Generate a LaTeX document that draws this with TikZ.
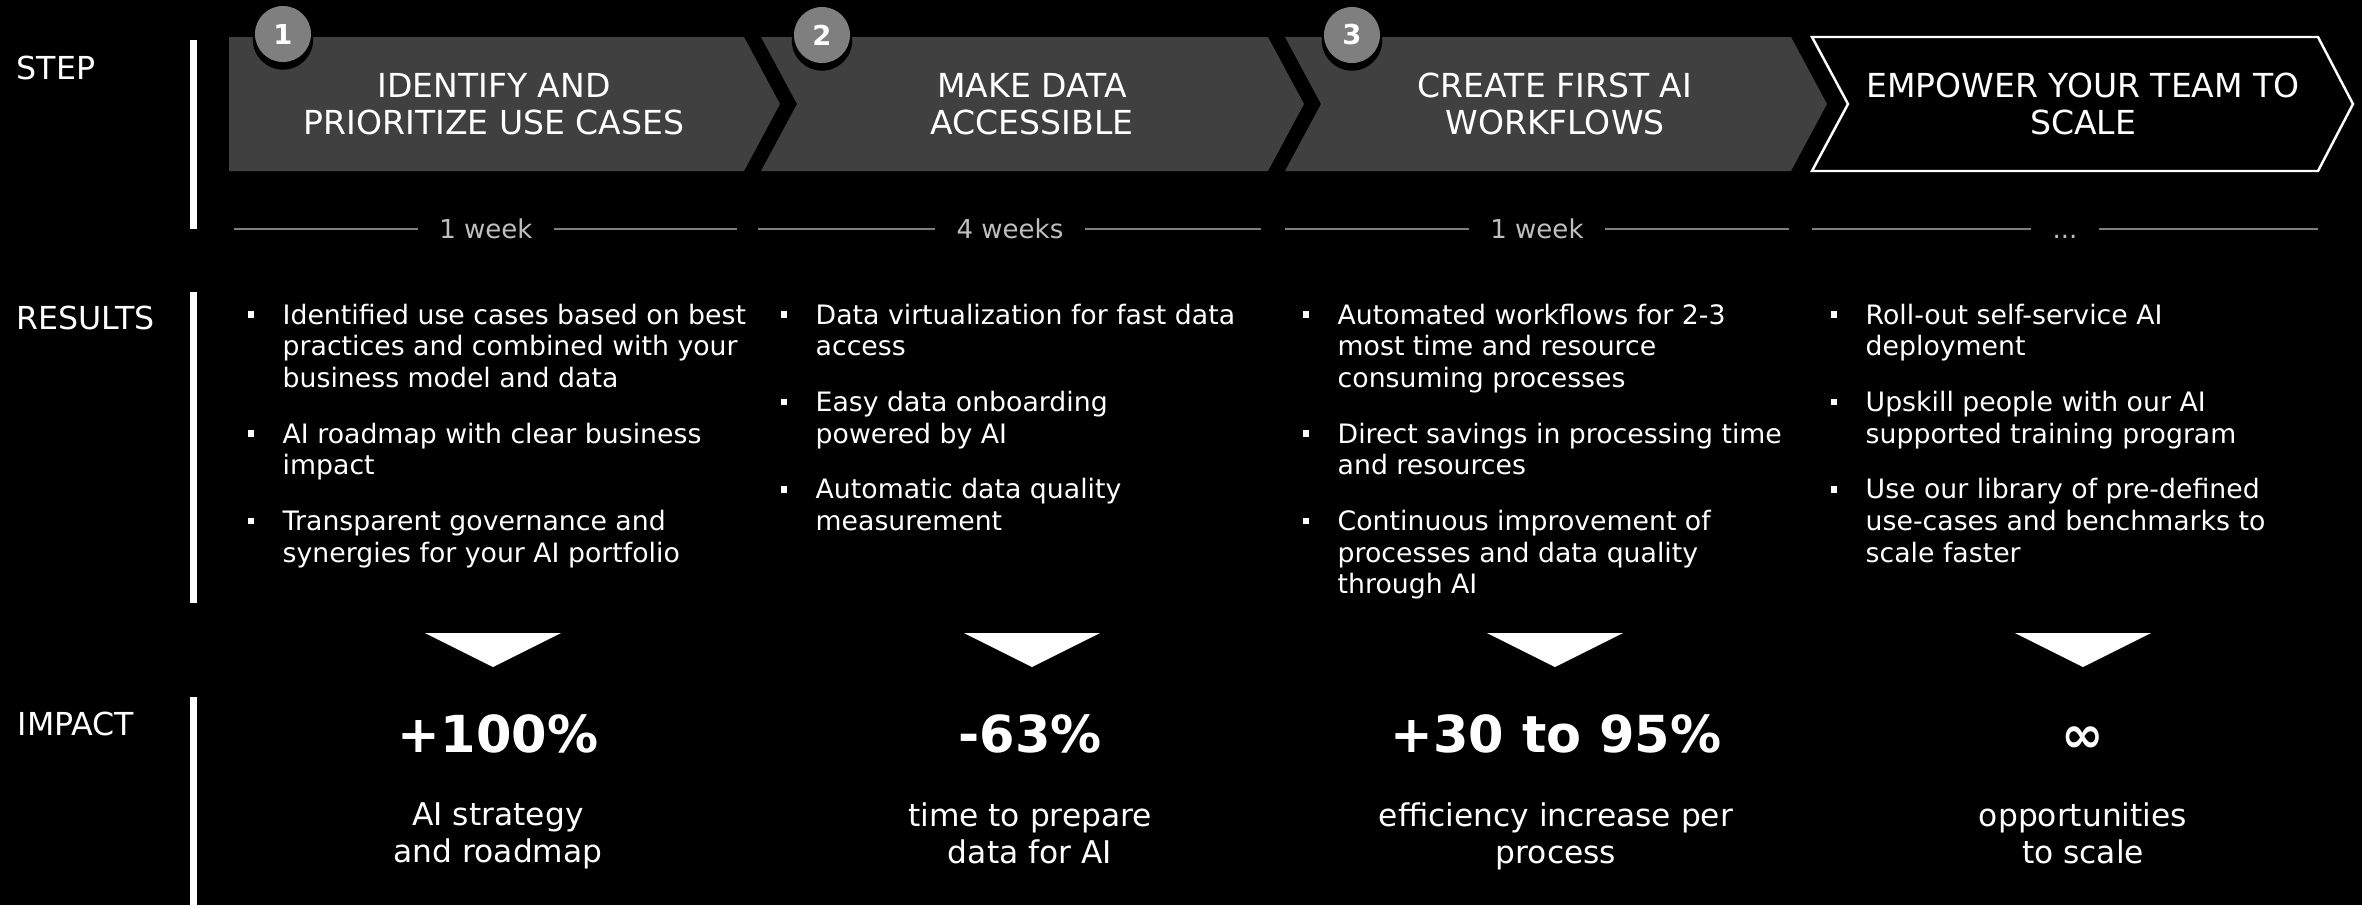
\documentclass[tikz,border=0pt]{standalone}
\usepackage{fontspec}
\setmainfont{DejaVu Sans}
\usepackage{xcolor}
\usepackage{tikz}
\usetikzlibrary{positioning, shadows}
\definecolor{chevgray}{RGB}{64,64,64}
\definecolor{circgray}{RGB}{127,127,127}
\definecolor{linegray}{RGB}{127,127,127}
\definecolor{durgray}{RGB}{191,191,191}
\tikzset{
    labelnode/.style = {text=white, anchor=base west, inner sep=0em, font=\fontsize{9}{10.8}\selectfont},
    sidebar/.style = {white, line width=2pt},
    chevron/.style = {fill=chevgray},
    lastchevron/.style = {draw=white, line width=0.7pt, fill=black},
    headnode/.style = {text=white, align=center, inner sep=0em, font=\fontsize{9.4}{10.5}\selectfont},
    numnode/.style = {circle, fill=circgray, text=white, minimum size=0.56cm, inner sep=0em, 
      font=\bfseries\fontsize{7.8}{9}\selectfont, 
      drop shadow={shadow xshift=0cm, shadow yshift=-0.05cm, shadow scale=1.08, fill=black, opacity=1}},
    durnode/.style = {text=durgray, inner xsep=6pt, inner ysep=0pt, text height=5.6pt, text depth=0pt, 
      font=\fontsize{7.4}{9}\selectfont},
    timeline/.style = {draw=linegray, line width=0.75pt},
    itemnode/.style = {text=white, align=left, anchor=north west, inner sep=0em, font=\fontsize{7.6}{9}\selectfont, 
      execute at begin node=\strut, execute at end node=\strut},
    bulletnode/.style = {fill=white, minimum size=0.065cm, inner sep=0em},
    downmark/.style = {fill=white},
    bignode/.style = {text=white, anchor=base, inner sep=0em, font=\bfseries\fontsize{14.5}{17}\selectfont},
    impactnode/.style = {text=white, align=center, anchor=north, inner sep=0em, font=\fontsize{8.9}{10.4}\selectfont, 
      execute at begin node=\strut, execute at end node=\strut}
}

\begin{document}
\begin{tikzpicture}[x=0.01cm, y=-0.01cm]
    \fill [black] (0,0) rectangle (2362,905); 
    \useasboundingbox (0,0) rectangle (2362,905); 

    \node [name=step, labelnode] at (16,79) {STEP}; 
    \node [name=results, labelnode] at (16,329) {RESULTS}; 
    \node [name=impact, labelnode] at (17,735) {IMPACT}; 
    \draw [sidebar] (193.5,40) -- (193.5,229); 
    \draw [sidebar] (193.5,292) -- (193.5,603); 
    \draw [sidebar] (193.5,697) -- (193.5,905); 

    \fill [chevron] (229,37) -- (744,37) -- (780,104) -- (744,171) -- (229,171) -- cycle; 
    \fill [chevron] (761,37) -- (1268,37) -- (1304,104) -- (1268,171) -- (761,171) -- (797,104) -- cycle; 
    \fill [chevron] (1285,37) -- (1791,37) -- (1827,104) -- (1791,171) -- (1285,171) -- (1321,104) -- cycle; 
    \draw [lastchevron] (1812,37) -- (2318,37) -- (2353,104) -- (2318,171) -- (1812,171) -- (1848,104) -- cycle; 

    \node [name=head1, headnode] at (494,104) {IDENTIFY AND\\PRIORITIZE USE CASES}; 
    \node [name=head2, headnode] at (1032,104) {MAKE DATA\\ACCESSIBLE}; 
    \node [name=head3, headnode] at (1555,104) {CREATE FIRST AI\\WORKFLOWS}; 
    \node [name=head4, headnode] at (2083,104) {EMPOWER YOUR TEAM TO\\SCALE}; 

    \node [name=num1, numnode] at (283,34) {1}; 
    \node [name=num2, numnode] at (822,35) {2}; 
    \node [name=num3, numnode] at (1352,35) {3}; 

    \node [name=dur1, durnode] at (486,229) {1 week}; 
    \coordinate (t1a) at (234,229); 
    \coordinate (t1b) at (737,229); 
    \draw [timeline] (t1a) -- (dur1); 
    \draw [timeline] (dur1) -- (t1b); 

    \node [name=dur2, durnode] at (1010,229) {4 weeks}; 
    \coordinate (t2a) at (758,229); 
    \coordinate (t2b) at (1261,229); 
    \draw [timeline] (t2a) -- (dur2); 
    \draw [timeline] (dur2) -- (t2b); 

    \node [name=dur3, durnode] at (1537,229) {1 week}; 
    \coordinate (t3a) at (1285,229); 
    \coordinate (t3b) at (1789,229); 
    \draw [timeline] (t3a) -- (dur3); 
    \draw [timeline] (dur3) -- (t3b); 

    \node [name=dur4, durnode] at (2065,229) {...}; 
    \coordinate (t4a) at (1812,229); 
    \coordinate (t4b) at (2318,229); 
    \draw [timeline] (t4a) -- (dur4); 
    \draw [timeline] (dur4) -- (t4b); 

    \node [name=i11, itemnode] at (282,303) {Identified use cases based on best\\practices and combined with your\\business model and data}; 
    \node [name=i12, below=7pt of i11.south west, itemnode] {AI roadmap with clear business\\impact}; 
    \node [name=i13, below=7pt of i12.south west, itemnode] {Transparent governance and\\synergies for your AI portfolio}; 

    \node [name=i21, itemnode] at (815,303) {Data virtualization for fast data\\access}; 
    \node [name=i22, below=7pt of i21.south west, itemnode] {Easy data onboarding\\powered by AI}; 
    \node [name=i23, below=7pt of i22.south west, itemnode] {Automatic data quality\\measurement}; 

    \node [name=i31, itemnode] at (1337,303) {Automated workflows for 2-3\\most time and resource\\consuming processes}; 
    \node [name=i32, below=7pt of i31.south west, itemnode] {Direct savings in processing time\\and resources}; 
    \node [name=i33, below=7pt of i32.south west, itemnode] {Continuous improvement of\\processes and data quality\\through AI}; 

    \node [name=i41, itemnode] at (1865,303) {Roll-out self-service AI\\deployment}; 
    \node [name=i42, below=7pt of i41.south west, itemnode] {Upskill people with our AI\\supported training program}; 
    \node [name=i43, below=7pt of i42.south west, itemnode] {Use our library of pre-defined\\use-cases and benchmarks to\\scale faster}; 

    \node [name=b11, bulletnode, xshift=-0.31cm, yshift=-0.115cm] at (i11.north west) {}; 
    \node [name=b12, bulletnode, xshift=-0.31cm, yshift=-0.115cm] at (i12.north west) {}; 
    \node [name=b13, bulletnode, xshift=-0.31cm, yshift=-0.115cm] at (i13.north west) {}; 
    \node [name=b21, bulletnode, xshift=-0.31cm, yshift=-0.115cm] at (i21.north west) {}; 
    \node [name=b22, bulletnode, xshift=-0.31cm, yshift=-0.115cm] at (i22.north west) {}; 
    \node [name=b23, bulletnode, xshift=-0.31cm, yshift=-0.115cm] at (i23.north west) {}; 
    \node [name=b31, bulletnode, xshift=-0.31cm, yshift=-0.115cm] at (i31.north west) {}; 
    \node [name=b32, bulletnode, xshift=-0.31cm, yshift=-0.115cm] at (i32.north west) {}; 
    \node [name=b33, bulletnode, xshift=-0.31cm, yshift=-0.115cm] at (i33.north west) {}; 
    \node [name=b41, bulletnode, xshift=-0.31cm, yshift=-0.115cm] at (i41.north west) {}; 
    \node [name=b42, bulletnode, xshift=-0.31cm, yshift=-0.115cm] at (i42.north west) {}; 
    \node [name=b43, bulletnode, xshift=-0.31cm, yshift=-0.115cm] at (i43.north west) {}; 

    \fill [downmark] (425,633) -- (561,633) -- (493,667) -- cycle; 
    \fill [downmark] (964,633) -- (1100,633) -- (1032,667) -- cycle; 
    \fill [downmark] (1487,633) -- (1623,633) -- (1555,667) -- cycle; 
    \fill [downmark] (2015,633) -- (2151,633) -- (2083,667) -- cycle; 

    \node [name=big1, bignode] at (498,752) {+100\%}; 
    \node [name=big2, bignode] at (1030,752) {-63\%}; 
    \node [name=big3, bignode] at (1556,752) {+30 to 95\%}; 
    \node [name=big4, bignode] at (2083,752) {∞}; 

    \node [name=sub1, impactnode, below=0.5cm of big1.base] {AI strategy\\and roadmap}; 
    \node [name=sub2, impactnode, below=0.5cm of big2.base] {time to prepare\\data for AI}; 
    \node [name=sub3, impactnode, below=0.5cm of big3.base] {efficiency increase per\\process}; 
    \node [name=sub4, impactnode, below=0.5cm of big4.base] {opportunities\\to scale}; 
\end{tikzpicture}
\end{document}
